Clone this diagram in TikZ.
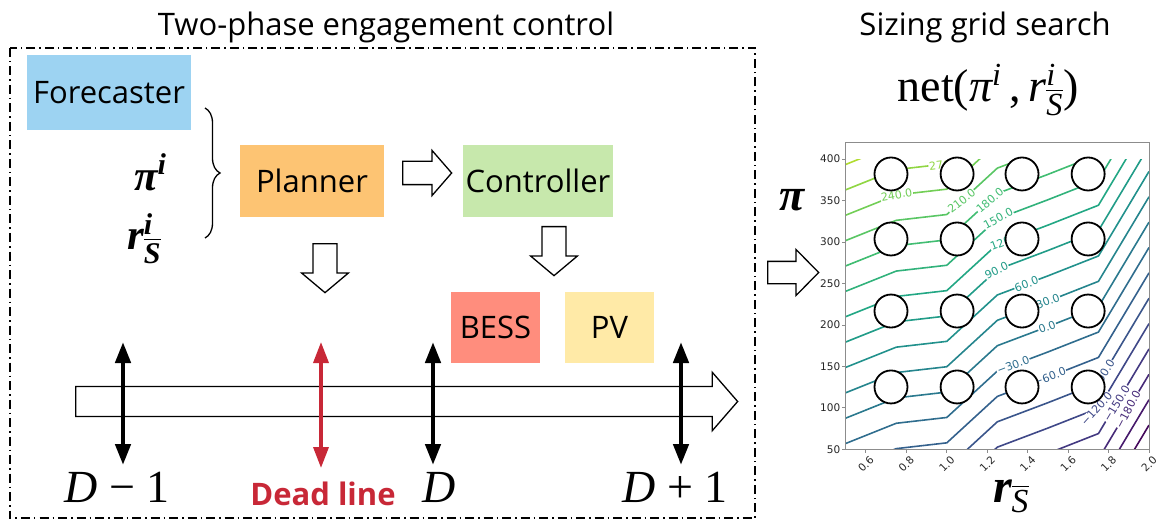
\documentclass[tikz,border=0pt]{standalone}
\usepackage{fix-cm}
\usepackage{amsmath}
\usepackage{fontspec}
\setmainfont{Open Sans}
\newfontfamily\tnr{Liberation Serif}
\newfontfamily\plotfont{DejaVu Sans}
\usetikzlibrary{arrows.meta,shapes.arrows,decorations.pathreplacing}

\definecolor{forecastblue}{RGB}{157,211,242}
\definecolor{planorange}{RGB}{253,196,115}
\definecolor{ctrlgreen}{RGB}{199,232,172}
\definecolor{bessred}{RGB}{255,141,125}
\definecolor{pvyellow}{RGB}{255,234,167}
\definecolor{deadred}{RGB}{200,40,55}
% contour colours, level -240 (lv0) up to 300 (lv18)
\definecolor{lv0}{RGB}{69,9,92}
\definecolor{lv1}{RGB}{71,26,108}
\definecolor{lv2}{RGB}{71,42,120}
\definecolor{lv3}{RGB}{67,57,129}
\definecolor{lv4}{RGB}{63,72,136}
\definecolor{lv5}{RGB}{58,85,139}
\definecolor{lv6}{RGB}{52,97,141}
\definecolor{lv7}{RGB}{47,109,142}
\definecolor{lv8}{RGB}{42,121,142}
\definecolor{lv9}{RGB}{37,133,141}
\definecolor{lv10}{RGB}{33,145,140}
\definecolor{lv11}{RGB}{33,156,136}
\definecolor{lv12}{RGB}{34,167,132}
\definecolor{lv13}{RGB}{49,178,123}
\definecolor{lv14}{RGB}{65,189,114}
\definecolor{lv15}{RGB}{89,198,100}
\definecolor{lv16}{RGB}{114,206,85}
\definecolor{lv17}{RGB}{144,214,67}
\definecolor{lv18}{RGB}{176,220,46}

\newcommand{\tbi}[1]{\text{\tnr\bfseries\itshape #1}}
\newcommand{\tmi}[1]{\text{\tnr\itshape #1}}
\newcommand{\tmr}[1]{\text{\tnr #1}}

\begin{document}
\begin{tikzpicture}[x=1pt, y=-1pt,
  bigtext/.style={font=\fontsize{31}{36}\selectfont},
  partbox/.style={bigtext, rectangle, inner sep=0pt},
  hollowarrow/.style={single arrow, draw, fill=white, line width=1.3pt, inner xsep=0pt, anchor=tail},
  daymark/.style={line width=4.5pt, >={Triangle[length=21pt,width=15pt]}, <->},
  daylabel/.style={font=\tnr\fontsize{46}{50}\selectfont, anchor=base, inner sep=0pt},
  mathlabel/.style={font=\fontsize{43}{47}\selectfont, inner sep=0pt},
  contour/.style={line width=1.6pt},
  clabel/.style={font=\plotfont\fontsize{11}{13}\selectfont, fill=white, inner sep=0.6pt},
  ticklabel/.style={font=\plotfont\fontsize{10.5}{12}\selectfont, text=black!85, inner sep=1.5pt},
  axisline/.style={draw=black!45, line width=0.9pt},
  gridpt/.style={circle, draw, fill=white, line width=1.8pt, minimum size=33pt, inner sep=0pt}]

  \useasboundingbox (0,0) rectangle (1163,524);

  % engagement control
  \node[bigtext] (ctrltitle) at (386,27) {Two-phase engagement control};
  \draw[line width=1.2pt, dash pattern=on 9pt off 4pt on 1.5pt off 4pt] (10,48) rectangle (755,518);

  \node[partbox, fill=forecastblue, minimum width=164pt, minimum height=75pt] (forecaster) at (109,92.5) {Forecaster};
  \node[mathlabel, anchor=base west] (pin) at (134,190) {$\tbi{π}^{\tbi{i}}$};
  \node[mathlabel, anchor=base west] (rin) at (127,250) {$\tbi{r}^{\tbi{i}}_{\overline{\tbi{S}}}$};
  \coordinate (bracetop) at (205,108);
  \coordinate (bracebot) at (205,238);
  \draw[line width=1.3pt, decorate, decoration={brace, amplitude=15pt}] (bracetop) -- (bracebot);

  \node[partbox, fill=planorange, minimum width=144pt, minimum height=72pt] (planner) at (312,181) {Planner};
  \node[partbox, fill=ctrlgreen, minimum width=150pt, minimum height=72pt] (controller) at (538,181) {Controller};
  \node[hollowarrow, minimum height=49pt, inner ysep=11pt, single arrow head extend=11pt, single arrow tip angle=98] (plan2ctrl) at (402,173) {};
  \node[hollowarrow, rotate=-90, minimum height=49pt, inner ysep=11.3pt, single arrow head extend=11.4pt, single arrow tip angle=100] (plandown) at (325,243) {};
  \node[hollowarrow, rotate=-90, minimum height=49pt, inner ysep=11.3pt, single arrow head extend=11.4pt, single arrow tip angle=100] (ctrldown) at (554,226) {};
  \node[partbox, fill=bessred, minimum width=89pt, minimum height=71pt] (bess) at (495.5,327.5) {BESS};
  \node[partbox, fill=pvyellow, minimum width=89pt, minimum height=71pt] (pv) at (609.5,327.5) {PV};

  % time line
  \node[hollowarrow, minimum height=662pt, inner ysep=14.3pt, single arrow head extend=14.3pt, single arrow tip angle=98] (timeline) at (75,401.5) {};
  \foreach \name/\xx in {dm/123, d/433, dp/681} {
    \coordinate (\name top) at (\xx,342);
    \coordinate (\name bot) at (\xx,465);
    \draw[daymark] (\name top) -- (\name bot);
  }
  \coordinate (deadtop) at (321,342);
  \coordinate (deadbot) at (321,468);
  \draw[daymark, deadred, line width=3.5pt] (deadtop) -- (deadbot);

  \node[daylabel] (lbldm) at (117,502) {\itshape D\upshape\hspace{0.25em}−\hspace{0.25em}1};
  \node[daylabel] (lbld) at (439,502) {\itshape D};
  \node[daylabel] (lbldp) at (675,502) {\itshape D\upshape\hspace{0.25em}+\hspace{0.25em}1};
  \node[font=\bfseries\fontsize{31}{36}\selectfont, text=deadred, anchor=base, inner sep=0pt] (deadline) at (323,505) {Dead line};

  % grid search
  \node[bigtext] (gridtitle) at (985,27) {Sizing grid search};
  \node[font=\fontsize{46}{50}\selectfont, anchor=base, inner sep=0pt] (netexpr) at (988,102)
    {$\tmr{net(}\tmi{π}^{\tmi{i}}\tmr{\,,\,}\tmi{r}^{\tmi{i}}_{\overline{\tmi{S}}}\tmr{)}$};
  \node[hollowarrow, minimum height=51pt, inner ysep=10.5pt, single arrow head extend=12pt, single arrow tip angle=91] (toplot) at (767,272.5) {};
  \node[font=\tnr\bfseries\itshape\fontsize{46}{50}\selectfont, inner sep=0pt] (pilabel) at (792,200) {π};
  \node[font=\fontsize{48}{52}\selectfont, anchor=base, inner sep=0pt] (rlabel) at (1011,502) {$\tbi{r}_{\overline{\tmi{S}}}$};

  \begin{scope}[shift={(744.6,490.75)}, x=202.2pt, y=0.829pt]
    \begin{scope}
      \clip (0.5,50) rectangle (2,400);
      \foreach \k in {0,...,18} {
        \pgfmathsetmacro{\off}{1.02*(30*\k-240)}
        \draw[contour, color=lv\k] (0.5,{87.6+\off}) -- (0.75,{112+\off}) -- (1,{119+\off}) -- (1.25,{175+\off})
          -- (1.5,{198+\off}) -- (1.75,{222+\off}) -- (2,{324+\off});
      }
    \end{scope}
    \node[clabel, text=lv17, rotate=7] (c270) at (0.99,393) {270.0};
    \node[clabel, text=lv16, rotate=10] (c240) at (0.752,357) {240.0};
    \node[clabel, text=lv15, rotate=38] (c210) at (1.073,349.6) {210.0};
    \node[clabel, text=lv14, rotate=40] (c180) at (1.213,350.3) {180.0};
    \node[clabel, text=lv13, rotate=28] (c150) at (1.254,328.4) {150.0};
    \node[clabel, text=lv12, rotate=21] (c120) at (1.29,301) {120.0};
    \node[clabel, text=lv11, rotate=25] (c90) at (1.246,265.9) {90.0};
    \node[clabel, text=lv10, rotate=21] (c60) at (1.394,249.4) {60.0};
    \node[clabel, text=lv9, rotate=21] (c30) at (1.5,228.6) {30.0};
    \node[clabel, text=lv8, rotate=21] (c0) at (1.496,197.6) {0.0};
    \node[clabel, text=lv7, rotate=21] (cm30) at (1.328,151.6) {−30.0};
    \node[clabel, text=lv6, rotate=21] (cm60) at (1.509,137.7) {−60.0};
    \node[clabel, text=lv5, rotate=59] (cm90) at (1.773,139.6) {−90.0};
    \node[clabel, text=lv4, rotate=48] (cm120) at (1.74,98.6) {−120.0};
    \node[clabel, text=lv3, rotate=59] (cm150) at (1.839,105.3) {−150.0};
    \node[clabel, text=lv2, rotate=62] (cm180) at (1.896,98) {−180.0};

    \foreach \cx [count=\i] in {0.724,1.051,1.372,1.699}
      \foreach \cy [count=\j] in {125.2,216.8,303.7,382.1}
        \node[gridpt] (g\i\j) at (\cx,\cy) {};

    \draw[axisline] (0.5,50) rectangle (2,420);
    \foreach \yv in {50,100,...,400}
      \draw[axisline] (0.5,\yv) -- ++(-3.5pt,0) node[ticklabel, left] {\yv};
    \foreach \xv in {0.6,0.8,1.0,1.2,1.4,1.6,1.8,2.0} {
      \draw[axisline] (\xv,50) -- ++(0,-3.5pt);
      \node[ticklabel, rotate=45] at ([yshift=-15pt]\xv,50) {\xv};
    }
  \end{scope}

\end{tikzpicture}
\end{document}
